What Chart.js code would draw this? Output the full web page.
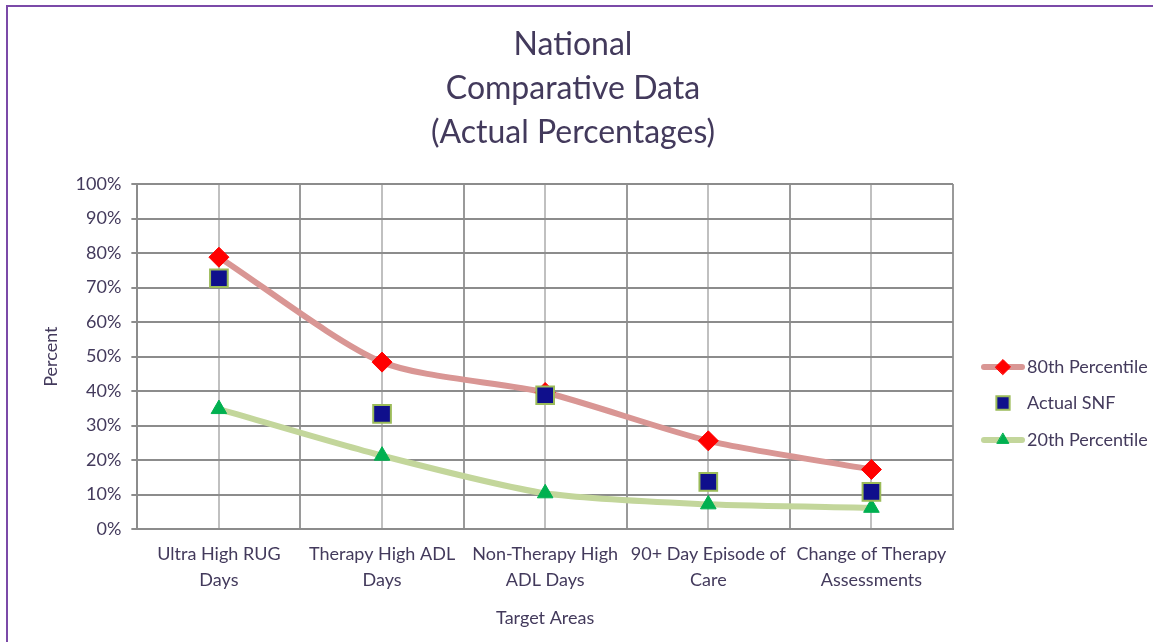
<!DOCTYPE html>
<html>
<head>
<meta charset="utf-8">
<script src="https://cdn.jsdelivr.net/npm/chart.js@4.4.1/dist/chart.umd.min.js"></script>
<style>
  html, body { margin: 0; padding: 0; background: #fff; }
  #wrap { position: relative; width: 1153px; height: 642px; }
  #frame { position: absolute; left: 6px; top: 5px; right: -10px; bottom: -10px;
           border-top: 2px solid #7b4aa8; border-left: 2px solid #7b4aa8; }
  canvas { position: absolute; left: 0; top: 0; }
</style>
</head>
<body>
<div id="wrap">
  <div id="frame"></div>
  <canvas id="myChart" width="1153" height="642"></canvas>
</div>
<script>
// カテゴリ
const categories = [
  ['Ultra High RUG', 'Days'],
  ['Therapy High ADL', 'Days'],
  ['Non-Therapy High', 'ADL Days'],
  ['90+ Day Episode of', 'Care'],
  ['Change of Therapy', 'Assessments']
];

// 系列データ (%)
const p80 = [78.8, 48.4, 39.6, 25.6, 17.3];
const snf = [72.7, 33.4, 38.8, 13.7, 10.8];
const p20 = [34.8, 21.3, 10.4, 7.2, 6.2];

const yTicks = [0, 10, 20, 30, 40, 50, 60, 70, 80, 90, 100];

const titleLines = ['National', 'Comparative Data', '(Actual Percentages)'];

const textColor = '#433a5c';
const font = 'Lato, "Open Sans", sans-serif';

const toXY = arr => arr.map((v, i) => ({ x: i, y: v }));

// タイトルと凡例（右側）を手描き
const sideLegend = {
  id: 'sideLegend',
  afterDraw(chart) {
    const ctx = chart.ctx;
    ctx.save();
    // タイトル
    ctx.fillStyle = textColor;
    ctx.font = '32px ' + font;
    ctx.textAlign = 'center';
    ctx.textBaseline = 'middle';
    titleLines.forEach((t, i) => ctx.fillText(t, 573, 45 + i * 44));

    // 凡例
    const items = chart.data.datasets;
    const ys = [367, 403, 440];
    ctx.textAlign = 'left';
    items.forEach((ds, i) => {
      const y = ys[i];
      if (ds.showLine !== false) {
        ctx.strokeStyle = ds.borderColor;
        ctx.lineWidth = 6;
        ctx.lineCap = 'round';
        ctx.beginPath();
        ctx.moveTo(984, y);
        ctx.lineTo(1022, y);
        ctx.stroke();
      }
      ctx.fillStyle = ds.pointBackgroundColor;
      ctx.strokeStyle = ds.pointBorderColor;
      ctx.lineWidth = ds.pointBorderWidth;
      Chart.helpers.drawPoint(ctx, {
        pointStyle: ds.pointStyle,
        radius: ds.pointRadius * 0.75,
        borderWidth: ds.pointBorderWidth
      }, 1003, y);
      ctx.fillStyle = textColor;
      ctx.font = '18px ' + font;
      ctx.fillText(ds.label, 1027, y);
    });
    ctx.restore();
  }
};

const data = {
  datasets: [
    {
      label: '80th Percentile',
      data: toXY(p80),
      borderColor: '#d99694',
      borderWidth: 6,
      tension: 0.25,
      pointStyle: 'rectRot',
      pointRadius: 10,
      pointBackgroundColor: '#ff0000',
      pointBorderColor: '#ff0000',
      pointBorderWidth: 1,
      order: 1
    },
    {
      label: 'Actual SNF',
      data: toXY(snf),
      showLine: false,
      pointStyle: 'rect',
      pointRadius: 12.5,
      pointBackgroundColor: '#0f0f8c',
      pointBorderColor: '#9bbb59',
      pointBorderWidth: 2,
      order: -1
    },
    {
      label: '20th Percentile',
      data: toXY(p20),
      borderColor: '#c3d69b',
      borderWidth: 6,
      tension: 0.25,
      pointStyle: 'triangle',
      pointRadius: 9,
      pointBackgroundColor: '#00b050',
      pointBorderColor: '#00b050',
      pointBorderWidth: 1,
      order: 0
    }
  ]
};

const config = {
  type: 'line',
  data: data,
  options: {
    responsive: false,
    animation: false,
    layout: { padding: { top: 184, right: 200, left: 36, bottom: 13 } },
    plugins: {
      legend: { display: false },
      tooltip: { enabled: false },
      title: { display: false }
    },
    scales: {
      x: {
        type: 'linear',
        min: -0.5,
        max: 4.5,
        grid: {
          color: ctx => (ctx.tick && Number.isInteger(ctx.tick.value)) ? '#c0c0c0' : '#9a9a9a',
          lineWidth: 2,
          drawTicks: false
        },
        border: { color: '#8c8c8c', width: 2 },
        ticks: {
          stepSize: 0.5,
          autoSkip: false,
          maxRotation: 0,
          padding: 12,
          color: textColor,
          font: { family: font, size: 18, lineHeight: 1.45 },
          callback: v => Number.isInteger(v) ? categories[v] : ''
        },
        title: {
          display: true,
          text: 'Target Areas',
          color: textColor,
          font: { family: font, size: 18 },
          padding: { top: 2, bottom: 0 }
        }
      },
      y: {
        min: 0,
        max: 100,
        afterBuildTicks: axis => { axis.ticks = yTicks.map(v => ({ value: v })); },
        grid: { color: '#8c8c8c', lineWidth: 2, tickLength: 6 },
        border: { color: '#8c8c8c', width: 2 },
        ticks: {
          color: textColor,
          padding: 10,
          font: { family: font, size: 18 },
          callback: v => v + '%'
        },
        title: {
          display: true,
          text: 'Percent',
          color: textColor,
          font: { family: font, size: 18 },
          padding: { bottom: 4 }
        }
      }
    }
  },
  plugins: [sideLegend]
};

const myChart = new Chart(document.getElementById('myChart'), config);
</script>
</body>
</html>
